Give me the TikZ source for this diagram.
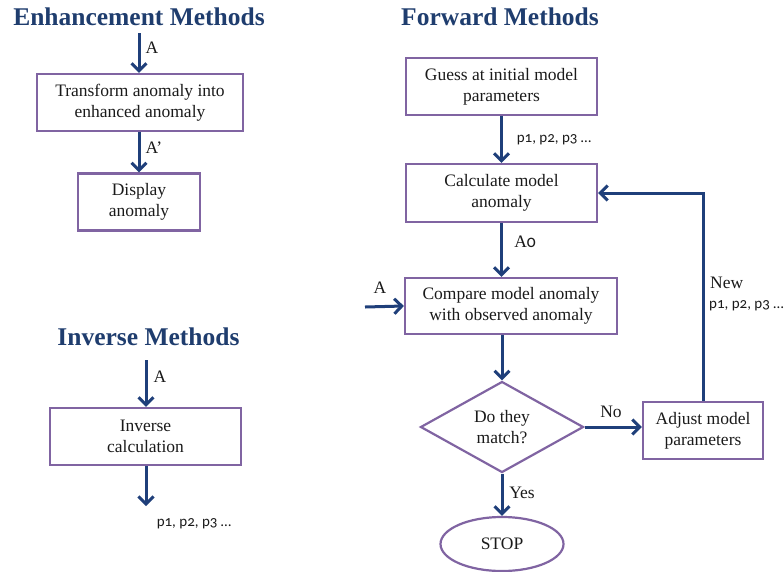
\documentclass[tikz,border=0pt]{standalone}
\usepackage{fontspec}
\setmainfont{Liberation Serif}
\newfontfamily\labfont[Numbers=OldStyle]{Carlito}
\usetikzlibrary{arrows.meta,shapes.geometric}
\definecolor{arrblue}{HTML}{1F3F7A}
\definecolor{boxpurple}{HTML}{8064A2}
\definecolor{titleblue}{HTML}{1F3D6E}
\definecolor{txt}{HTML}{1A1A1A}
\tikzset{
  flowbox/.style={draw=boxpurple, line width=2.2pt, rectangle, align=center, inner sep=2pt,
    font=\fontsize{17.5}{21}\selectfont, text=txt},
  title/.style={font=\fontsize{25.5}{30}\selectfont\bfseries, text=titleblue},
  flowarrow/.style={draw=arrblue, line width=3pt, -{Straight Barb[length=7.5pt,width=15pt]}},
  lbl/.style={font=\fontsize{17.5}{21}\selectfont, text=txt, inner sep=0pt},
  plbl/.style={font=\labfont\fontsize{15}{18}\selectfont, text=txt, inner sep=0pt},
}
\begin{document}
\begin{tikzpicture}[x=1pt,y=-1pt]
\useasboundingbox (0,0) rectangle (784,571);

% titles
\node[title] (tEnh) at (139,17) {Enhancement Methods};
\node[title] (tFwd) at (500,17) {Forward Methods};
\node[title] (tInv) at (148.5,337) {Inverse Methods};

% Enhancement
\coordinate (eA) at (139,33);
\node[flowbox, minimum width=206pt, minimum height=57pt] (trans) at (140,102.5) {Transform anomaly into\\enhanced anomaly};
\node[flowbox, minimum width=122pt, minimum height=57pt] (disp) at (139,202) {Display\\anomaly};
\draw[flowarrow] (eA) -- (eA |- trans.north);
\draw[flowarrow] (trans.south -| eA) -- (eA |- disp.north);
\node[lbl] (lA1) at (152,48) {A};
\node[lbl] (lA2) at (154,148) {A’};

% Inverse
\coordinate (iA) at (146,360);
\node[flowbox, minimum width=191pt, minimum height=57pt] (inv) at (145.5,436.5) {Inverse\\calculation};
\coordinate (iEnd) at (146,506);
\draw[flowarrow] (iA) -- (iA |- inv.north);
\draw[flowarrow] (inv.south -| iA) -- (iEnd);
\node[lbl] (lA3) at (160,377) {A};
\node[plbl] (lP1) at (194,524) {p1, p2, p3 …};

% Forward
\node[flowbox, minimum width=191pt, minimum height=57pt] (guess) at (501.5,86.5) {Guess at initial model\\parameters};
\node[flowbox, minimum width=191pt, minimum height=58pt] (calc) at (501.5,193) {Calculate model\\anomaly};
\node[flowbox, minimum width=212pt, minimum height=56pt] (comp) at (511,306) {Compare model anomaly\\with observed anomaly};
\node[draw=boxpurple, line width=2.2pt, diamond, minimum width=163pt, minimum height=91pt, inner sep=0pt,
  align=center, font=\fontsize{17.5}{21}\selectfont, text=txt] (match) at (502,427) {Do they\\match?};
\node[flowbox, minimum width=120pt, minimum height=57pt] (adj) at (703,430.5) {Adjust model\\parameters};
\node[draw=boxpurple, line width=2.2pt, ellipse, minimum width=123pt, minimum height=54pt, inner sep=0pt,
  font=\fontsize{17.5}{21}\selectfont, text=txt] (stop) at (502,544) {STOP};
\coordinate (fA) at (365,307);

\draw[flowarrow] (guess.south) -- (calc.north);
\draw[flowarrow] (calc.south) -- (calc.south |- comp.north);
\draw[flowarrow] (fA) -- (comp.west);
\draw[flowarrow] (comp.south -| match.north) -- (match.north);
\draw[flowarrow] (match.east) -- (adj.west |- match.east);
\draw[flowarrow] (match.south) -- (stop.north);
\draw[flowarrow] (adj.north) |- (calc.east);

\node[plbl] (lP2) at (554,140) {p1, p2, p3 …};
\node[lbl] (lA0) at (525,242) {A{\labfont 0}};
\node[lbl] (lA4) at (380,288) {A};
\node[lbl] (lNo) at (611,412) {No};
\node[lbl] (lYes) at (522,493) {Yes};
\node[lbl, anchor=west] (lNew) at (710,283) {New};
\node[plbl, anchor=west] (lP3) at (709,306) {p1, p2, p3 …};
\end{tikzpicture}
\end{document}
